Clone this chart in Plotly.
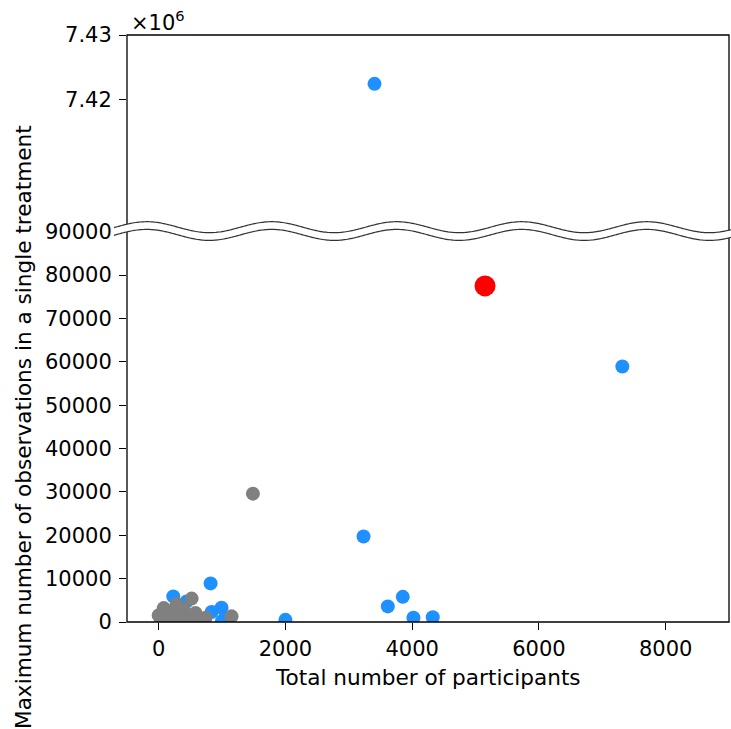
import numpy as np
import plotly.graph_objects as go

# ---------------- data ----------------
gray_x = [0, 20, 80, 60, 150, 180, 283, 300, 362, 390, 520, 580, 650, 740, 1150, 1487, 450, 230]
gray_y = [1500, 1700, 3200, 900, 2500, 1300, 4150, 700, 1300, 2900, 5400, 2100, 600, 1000, 1300, 29600, 400, 1900]

blue_x = [230, 441, 819, 992, 835, 493, 1044, 1000, 2000, 3233, 3616, 3852, 4020, 4325, 7317, 3406, 550]
blue_y = [5900, 4750, 8900, 3300, 2300, 900, 800, 200, 500, 19700, 3600, 5800, 1000, 1100, 58900, 7422400, 300]

red_x = [5150]
red_y = [77500]

x_ticks = [0, 2000, 4000, 6000, 8000]
x_ticktext = ["0", "2000", "4000", "6000", "8000"]
low_ticks = [0, 10000, 20000, 30000, 40000, 50000, 60000, 70000, 80000, 90000]
low_ticktext = [str(v) for v in low_ticks]
high_ticks = [7.42e6, 7.43e6]
high_ticktext = ["7.42", "7.43"]

BREAK = 100000  # values above go to the upper panel

# ---------------- geometry ----------------
W, H = 731, 729
ML, MR, MT, MB = 127, 2, 35, 107
PW, PH = W - ML - MR, H - MT - MB
X_BOTTOM = 622


def px2x(X):
    return (X - ML) / PW


def px2y(Y):
    return (X_BOTTOM - Y) / PH


low_top_px = 231.7
high_bot_px = 227.0
low_domain = [0, px2y(low_top_px)]
high_domain = [px2y(high_bot_px), 1]
high_range = [7.43e6 - (high_bot_px - MT) / 64.3 * 1e4, 7.43e6]

FONT = "DejaVu Sans"
FS = 21
FS_TITLE = 21.6

fig = go.Figure()


def split(xs, ys):
    xs = np.array(xs, dtype=float)
    ys = np.array(ys, dtype=float)
    lo = ys <= BREAK
    return xs[lo], ys[lo], xs[~lo], ys[~lo]


series = [
    (blue_x, blue_y, "#1E90FF", 14),
    (gray_x, gray_y, "#808080", 14),
    (red_x, red_y, "#FF0000", 21),
]
for xs, ys, col, sz in series:
    lx, ly, hx, hy = split(xs, ys)
    marker = dict(color=col, size=sz, line=dict(width=0))
    fig.add_trace(go.Scatter(x=lx, y=ly, mode="markers", marker=marker,
                             xaxis="x", yaxis="y", showlegend=False))
    if len(hx):
        fig.add_trace(go.Scatter(x=hx, y=hy, mode="markers", marker=marker,
                                 xaxis="x2", yaxis="y2", showlegend=False))

axis_common = dict(showgrid=False, zeroline=False, ticks="outside", ticklen=7,
                   tickwidth=1.3, tickcolor="black", showline=False,
                   tickfont=dict(family=FONT, size=FS, color="black"))

fig.update_layout(
    width=W, height=H,
    margin=dict(l=ML, r=MR, t=MT, b=MB, pad=0),
    plot_bgcolor="white", paper_bgcolor="white",
    font=dict(family=FONT, size=FS, color="black"),
    xaxis=dict(range=[-500, 9000], tickvals=x_ticks, ticktext=x_ticktext,
               anchor="y", ticklabelstandoff=1, **axis_common),
    yaxis=dict(range=[0, 90000], domain=low_domain, tickvals=low_ticks,
               ticktext=low_ticktext, anchor="x", ticklabelstandoff=3, **axis_common),
    xaxis2=dict(range=[-500, 9000], anchor="y2", matches="x", showticklabels=False,
                showgrid=False, zeroline=False, ticks=""),
    yaxis2=dict(range=high_range, domain=high_domain, tickvals=high_ticks,
                ticktext=high_ticktext, anchor="x2", ticklabelstandoff=3, **axis_common),
)

# frame
shapes = [dict(type="rect", xref="paper", yref="paper", x0=0, x1=1, y0=0, y1=1,
               line=dict(color="black", width=1.3), fillcolor="rgba(0,0,0,0)", layer="above")]

# wavy break
Xs = np.linspace(114, 731, 400)
up = 227.2 - 5.5 * np.cos(2 * np.pi * (Xs - 396.7) / 125.0)
lo = up + 7.7


def pts(X, Y):
    return " L".join(f"{px2x(a):.5f},{px2y(b):.5f}" for a, b in zip(X, Y))


band = "M" + pts(Xs, up) + " L" + pts(Xs[::-1], lo[::-1]) + " Z"
shapes.append(dict(type="path", xref="paper", yref="paper", path=band,
                   fillcolor="white", line=dict(width=0), layer="above"))
for Y in (up, lo):
    shapes.append(dict(type="path", xref="paper", yref="paper", path="M" + pts(Xs, Y),
                       line=dict(color="#333333", width=1.2), layer="above"))
fig.update_layout(shapes=shapes)

fig.add_annotation(text="×10<sup>6</sup>", xref="paper", yref="paper",
                   x=px2x(129), y=1, xanchor="left", yanchor="bottom", yshift=-2,
                   showarrow=False, font=dict(family=FONT, size=FS, color="black"))
fig.add_annotation(text="Total number of participants", xref="paper", yref="paper",
                   x=0.5, y=px2y(677), xanchor="center", yanchor="middle",
                   showarrow=False, font=dict(family=FONT, size=FS_TITLE, color="black"))
fig.add_annotation(text="Maximum number of observations in a single treatment",
                   xref="paper", yref="paper", x=px2x(23), y=px2y(427),
                   xanchor="center", yanchor="middle", textangle=-90,
                   showarrow=False, font=dict(family=FONT, size=FS_TITLE, color="black"))

fig.write_html("out.html", config={"displayModeBar": False},
               post_script="document.body.style.margin='0';document.body.style.overflow='hidden';")
